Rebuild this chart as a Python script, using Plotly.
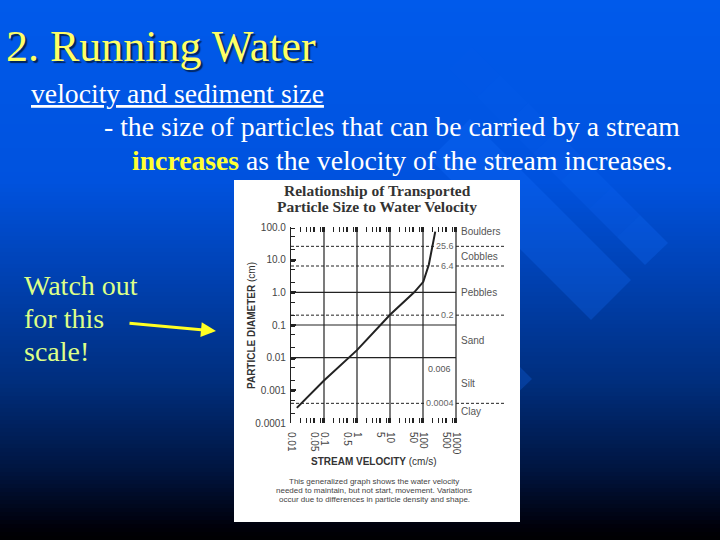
import math
import plotly.graph_objects as go

W, H = 720, 540

velocity = [0.015, 0.1, 1, 10.2, 54, 102, 150, 190, 235]
diameter = [0.00029, 0.002, 0.017, 0.21, 1.0, 2.1, 7, 22, 72]

x_major = [0.01, 0.05, 0.1, 0.5, 1, 5, 10, 50, 100, 500, 1000]
x_labels = ["0.01", "0.05", "0.1", "0.5", "1", "5", "10", "50", "100", "500", "1000"]
x_grid = [0.1, 1, 10, 100, 1000]
x_minor = [m * d for d in [0.01, 0.1, 1, 10, 100] for m in [2, 3, 4, 8, 9]]

y_major = [100, 10, 1, 0.1, 0.01, 0.001, 0.0001]
y_labels = ["100.0", "10.0", "1.0", "0.1", "0.01", "0.001", "0.0001"]
y_grid = [1, 0.1, 0.01]
y_minor = [m * d for d in [0.0001, 0.001, 0.01, 0.1, 1, 10] for m in [2, 5, 9]]

boundary_sizes = [25.6, 6.4, 0.2, 0.0004]
boundary_labels = ["25.6", "6.4", "0.2", "0.0004"]
extra_label = ("0.006", 0.0045)
classes = ["Boulders", "Cobbles", "Pebbles", "Sand", "Silt", "Clay"]
class_y = [75, 12.5, 1.0, 0.033, 0.0016, 0.00022]

grad_stops = [(0, (0, 90, 235)), (180, (0, 82, 222)), (270, (0, 66, 180)),
              (380, (0, 46, 125)), (470, (0, 20, 62)), (525, (0, 0, 10)), (540, (0, 0, 0))]


def px(x):
    return x / W


def py(y):
    return 1 - y / H


def grad(y):
    for (a, ca), (b, cb) in zip(grad_stops, grad_stops[1:]):
        if a <= y <= b:
            t = (y - a) / (b - a)
            return "rgb(%d,%d,%d)" % tuple(round(p + (q - p) * t) for p, q in zip(ca, cb))
    return "rgb(0,0,0)"


shapes = []
for y in range(0, H, 4):
    shapes.append(dict(type="rect", xref="paper", yref="paper", x0=0, x1=1, y0=0, y1=py(y),
                       fillcolor=grad(y), line_width=0, layer="below"))


def poly(points, color):
    path = "M " + " L ".join(f"{px(a)},{py(b)}" for a, b in points) + " Z"
    shapes.append(dict(type="path", xref="paper", yref="paper", path=path,
                       fillcolor=color, line_width=0, layer="below"))


# Upper band fades out towards the top of the slide
for back, alpha in [(0, 0.25), (28, 0.21), (56, 0.17), (84, 0.13), (112, 0.09), (140, 0.05), (168, 0.03)]:
    a = (668 - back, 243 - back)
    b = (645 - back, 265 - back)
    poly([a, b, (b[0] - 28, b[1] - 28), (a[0] - 28, a[1] - 28)], f"rgba(20,110,255,{alpha})")
poly([(631, 280), (591, 320), (430, 159), (470, 119)], "rgba(20,110,255,0.25)")
poly([(532, 379), (505, 352), (480, 379), (505, 405)], "rgba(20,110,255,0.25)")
shapes.append(dict(type="rect", xref="paper", yref="paper", x0=px(234), x1=px(520),
                   y0=py(522), y1=py(180), fillcolor="white", line_width=0, layer="below"))

fig = go.Figure()
INK = "#222222"
xr = [-2, 3 + (520 - 456) / 33]


def line(xs, ys, width=1.2, dash="solid"):
    fig.add_trace(go.Scatter(x=xs, y=ys, mode="lines", showlegend=False, hoverinfo="skip",
                             line=dict(color=INK, width=width, dash=dash)))


for v in x_grid:
    line([v, v], [0.0001, 100])
for d in y_grid:
    line([0.01, 1000], [d, d])
for d in boundary_sizes:
    line([0.01, 10 ** (3 + 48 / 33)], [d, d], width=1, dash="3px,2px")
line(velocity, diameter, width=2)

for lab, d in zip(boundary_labels, boundary_sizes):
    fig.add_annotation(x=3, y=math.log10(d), text=lab, showarrow=False, xanchor="right",
                       xshift=-1, font=dict(family="Liberation Sans", size=9, color="#666666"), bgcolor="white",
                       borderpad=0)
fig.add_annotation(x=3, y=math.log10(extra_label[1]), text=extra_label[0], showarrow=False,
                   xanchor="right", xshift=-3, font=dict(family="Liberation Sans", size=9, color="#555555"))
for lab, d in zip(classes, class_y):
    fig.add_annotation(x=3, y=math.log10(d), text=lab, showarrow=False, xanchor="left", xshift=3,
                       font=dict(family="Liberation Sans", size=10, color="#555555"))


def note(x, y, text, size, color, family="Liberation Serif", anchor="left", **kw):
    fig.add_annotation(xref="paper", yref="paper", x=px(x), y=py(y), text=text, showarrow=False,
                       xanchor=anchor, yanchor="middle", align=anchor if anchor != "middle" else "center",
                       font=dict(family=family, size=size, color=color, **kw.pop("font", {})), **kw)


SHADOW = "2px 2px 1px #00245c"
note(4, 47, "2. Running Water", 44, "#FFFF66", font=dict(shadow=SHADOW))
note(29, 94, "velocity and sediment size", 27.7, "white", font=dict(lineposition="under"))
note(102, 127, "- the size of particles that can be carried by a stream", 27.7, "white")
note(130, 160, '<span style="color:#FFFF33"><b>increases</b></span> as the velocity of the stream increases.', 27.7, "white")
note(22, 285, "Watch out", 28, "#DDFF88")
note(22, 318, "for this", 28, "#DDFF88")
note(22, 351, "scale!", 28, "#DDFF88")
fig.add_annotation(xref="paper", yref="paper", x=px(216), y=py(331), axref="pixel", ayref="pixel",
                   ax=-88, ay=-8, text="", showarrow=True, arrowhead=2, arrowsize=1, arrowwidth=3,
                   arrowcolor="#FFFF22")

note(377, 191, "<b>Relationship of Transported</b>", 15.5, "#333333", anchor="center")
note(377, 207, "<b>Particle Size to Water Velocity</b>", 15.5, "#333333", anchor="center")
note(374, 461, "<b>STREAM VELOCITY</b> (cm/s)", 10, "#333333", family="Liberation Sans", anchor="center")
note(251, 326, "<b>PARTICLE DIAMETER</b> (cm)", 10, "#333333", family="Liberation Sans", anchor="center",
     textangle=-90)
note(374, 481, "This generalized graph shows the water velocity", 8, "#444444",
     family="Liberation Sans", anchor="center")
note(374, 490, "needed to maintain, but not start, movement. Variations", 8, "#444444",
     family="Liberation Sans", anchor="center")
note(374, 499, "occur due to differences in particle density and shape.", 8, "#444444",
     family="Liberation Sans", anchor="center")

fig.update_layout(
    margin=dict(l=0, r=0, t=0, b=0, autoexpand=False), showlegend=False, autosize=True,
    paper_bgcolor="#000000", plot_bgcolor="rgba(0,0,0,0)", shapes=shapes,
    xaxis=dict(type="log", range=xr, domain=[px(291), px(520)], anchor="y", tickmode="array",
               tickvals=x_major, ticktext=x_labels, tickangle=90, ticks="inside", ticklen=5, tickcolor=INK,
               tickwidth=1.5, mirror="ticks", showgrid=False, zeroline=False, showline=False,
               ticklabelstandoff=8,
               tickfont=dict(family="Liberation Sans", size=10, color="#444444"),
               minor=dict(tickmode="array", tickvals=x_minor, ticks="inside", ticklen=5, tickcolor=INK,
                          tickwidth=1, showgrid=False)),
    yaxis=dict(type="log", range=[-4, 2], domain=[py(423), py(227)], anchor="x", tickmode="array",
               tickvals=y_major, ticktext=y_labels, ticks="inside", ticklen=5, tickcolor=INK, tickwidth=2,
               showgrid=False, zeroline=False, showline=True, linecolor=INK, linewidth=1.2,
               ticklabelstandoff=2,
               tickfont=dict(family="Liberation Sans", size=10, color="#444444"),
               minor=dict(tickmode="array", tickvals=y_minor, ticks="inside", ticklen=4, tickcolor=INK,
                          tickwidth=1, showgrid=False)),
)

POST = """
document.documentElement.style.margin='0';
document.documentElement.style.padding='0';
document.documentElement.style.background='#000';
document.body.style.margin='0';
document.body.style.padding='0';
document.body.style.overflow='hidden';
var gd=document.getElementById('{plot_id}');
Plotly.relayout(gd,{width:720,height:540});
"""
fig.write_html("out.html", config=dict(displayModeBar=False), default_width="720px", default_height="540px",
               post_script=POST)
